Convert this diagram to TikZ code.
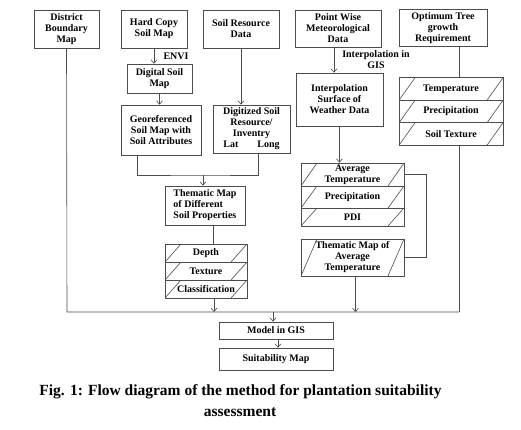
\documentclass[tikz,border=0pt]{standalone}
\usepackage{fontspec}
\setmainfont{Liberation Serif}
\usetikzlibrary{arrows.meta,calc}

\begin{document}
\begin{tikzpicture}[x=1pt,y=-1pt,
  every node/.style={font=\bfseries\fontsize{10}{11}\selectfont},
  box/.style={draw=black!70,line width=0.6pt,inner sep=1pt,align=center},
  slashrow/.style={box,path picture={
    \draw[black!70,line width=0.6pt] (path picture bounding box.south west) -- ([xshift=16pt]path picture bounding box.north west);
    \draw[black!70,line width=0.6pt] ([xshift=-16pt]path picture bounding box.south east) -- (path picture bounding box.north east);}},
  ln/.style={draw=black!70,line width=0.6pt},
  arr/.style={ln,-{Straight Barb[length=3.5pt,width=6pt]}}]
\useasboundingbox (0,0) rectangle (521,430);
% top row
\node[box,minimum width=65,minimum height=38] (dist) at (66.5,29) {District\\Boundary\\Map};
\node[box,minimum width=66,minimum height=38] (hard) at (154,29) {Hard Copy\\Soil Map};
\node[box,minimum width=76,minimum height=38] (soilres) at (241,29) {Soil Resource\\Data};
\node[box,minimum width=86,minimum height=37] (point) at (338,28.5) {Point Wise\\Meteorological\\Data};
\node[box,minimum width=88,minimum height=37] (optim) at (443,28) {Optimum Tree\\growth\\Requirement};
% soil branch
\node[box,minimum width=65,minimum height=29] (digital) at (159.5,78.5) {Digital Soil\\Map};
\node[box,minimum width=80,minimum height=50] (geo) at (161,130) {Georeferenced\\Soil Map with\\Soil Attributes};
\node[box,minimum width=77,minimum height=48] (digitized) at (251.5,129) {Digitized Soil\\Resource/\\Inventry\\Lat\hspace{19pt}Long};
\node[box,minimum width=80,minimum height=39,align=left] (thematic) at (205,205.5) {Thematic Map\\of Different\\Soil Properties};
\node[slashrow,minimum width=82,minimum height=18] (depth) at (206,253) {Depth};
\node[slashrow,minimum width=82,minimum height=18] (texture) at (206,271) {Texture};
\node[slashrow,minimum width=82,minimum height=18] (classif) at (206,289) {Classification};
% weather branch
\node[box,minimum width=87,minimum height=53] (interp) at (339.5,99.5) {Interpolation\\Surface of\\Weather Data};
\node[slashrow,minimum width=103,minimum height=23] (avgt) at (352.5,174.5) {Average\\Temperature};
\node[slashrow,minimum width=103,minimum height=22] (precip) at (352.5,197) {Precipitation};
\node[slashrow,minimum width=103,minimum height=18] (pdi) at (352.5,217) {PDI};
\node[slashrow,minimum width=103,minimum height=37] (tmavg) at (352.5,257.5) {Thematic Map of\\Average\\Temperature};
% tree requirement
\node[slashrow,minimum width=104,minimum height=22.5] (ttemp) at (451,89) {Temperature};
\node[slashrow,minimum width=104,minimum height=22.5] (tprecip) at (451,111.5) {Precipitation};
\node[slashrow,minimum width=104,minimum height=22.5] (ttext) at (451,134) {Soil Texture};
% model
\node[box,minimum width=114,minimum height=17] (model) at (276,330.5) {Model in GIS};
\node[box,minimum width=114,minimum height=22] (suit) at (276,359) {Suitability Map};
% labels
\node (envi) at (176,56) {ENVI};
\node[align=center] (interplbl) at (376,59.5) {Interpolation in\\GIS};
\node[font=\bfseries\fontsize{15.5}{20}\selectfont] (cap1) at (240.5,392) {Fig. 1: Flow diagram of the method for plantation suitability};
\node[font=\bfseries\fontsize{15.5}{20}\selectfont] (cap2) at (240,412) {assessment};
% junctions
\coordinate (jsoil) at (203,175);
\coordinate (busL) at (67,312);
\coordinate (busR) at (459,312);
% connectors
\draw[arr] (hard.south) -- (hard.south |- digital.north);
\draw[arr] (digital.south) -- (digital.south |- geo.north);
\draw[arr] (soilres.south) -- (soilres.south |- digitized.north);
\draw[ln] ([xshift=-24]geo.south) |- (jsoil) -| ([xshift=6.5]digitized.south);
\draw[arr] (jsoil) -- (jsoil |- thematic.north);
\draw[ln] ([xshift=8]thematic.south) -- ([xshift=8]thematic.south |- depth.north);
\draw[ln] (dist.south) -- (busL) -- (busR);
\draw[ln] ([xshift=16]optim.south) -- ([xshift=16]optim.south |- ttemp.north);
\draw[ln] ([xshift=8]ttext.south) -- (busR);
\draw[arr] ([xshift=8]classif.south) -- ([xshift=8]classif.south |- busL);
\draw[arr] ([xshift=-4]point.south) -- ([xshift=-4]point.south |- interp.north);
\draw[arr] (interp.south) -- (interp.south |- avgt.north);
\draw[ln] (avgt.east) -- ++(22,0) |- (tmavg.east);
\draw[arr] ([xshift=3]tmavg.south) -- ([xshift=3]tmavg.south |- busL);
\draw[arr] ([xshift=-3]model.north |- busL) -- ([xshift=-3]model.north);
\draw[arr] ([xshift=2]model.south) -- ([xshift=2]suit.north);
\end{tikzpicture}
\end{document}
